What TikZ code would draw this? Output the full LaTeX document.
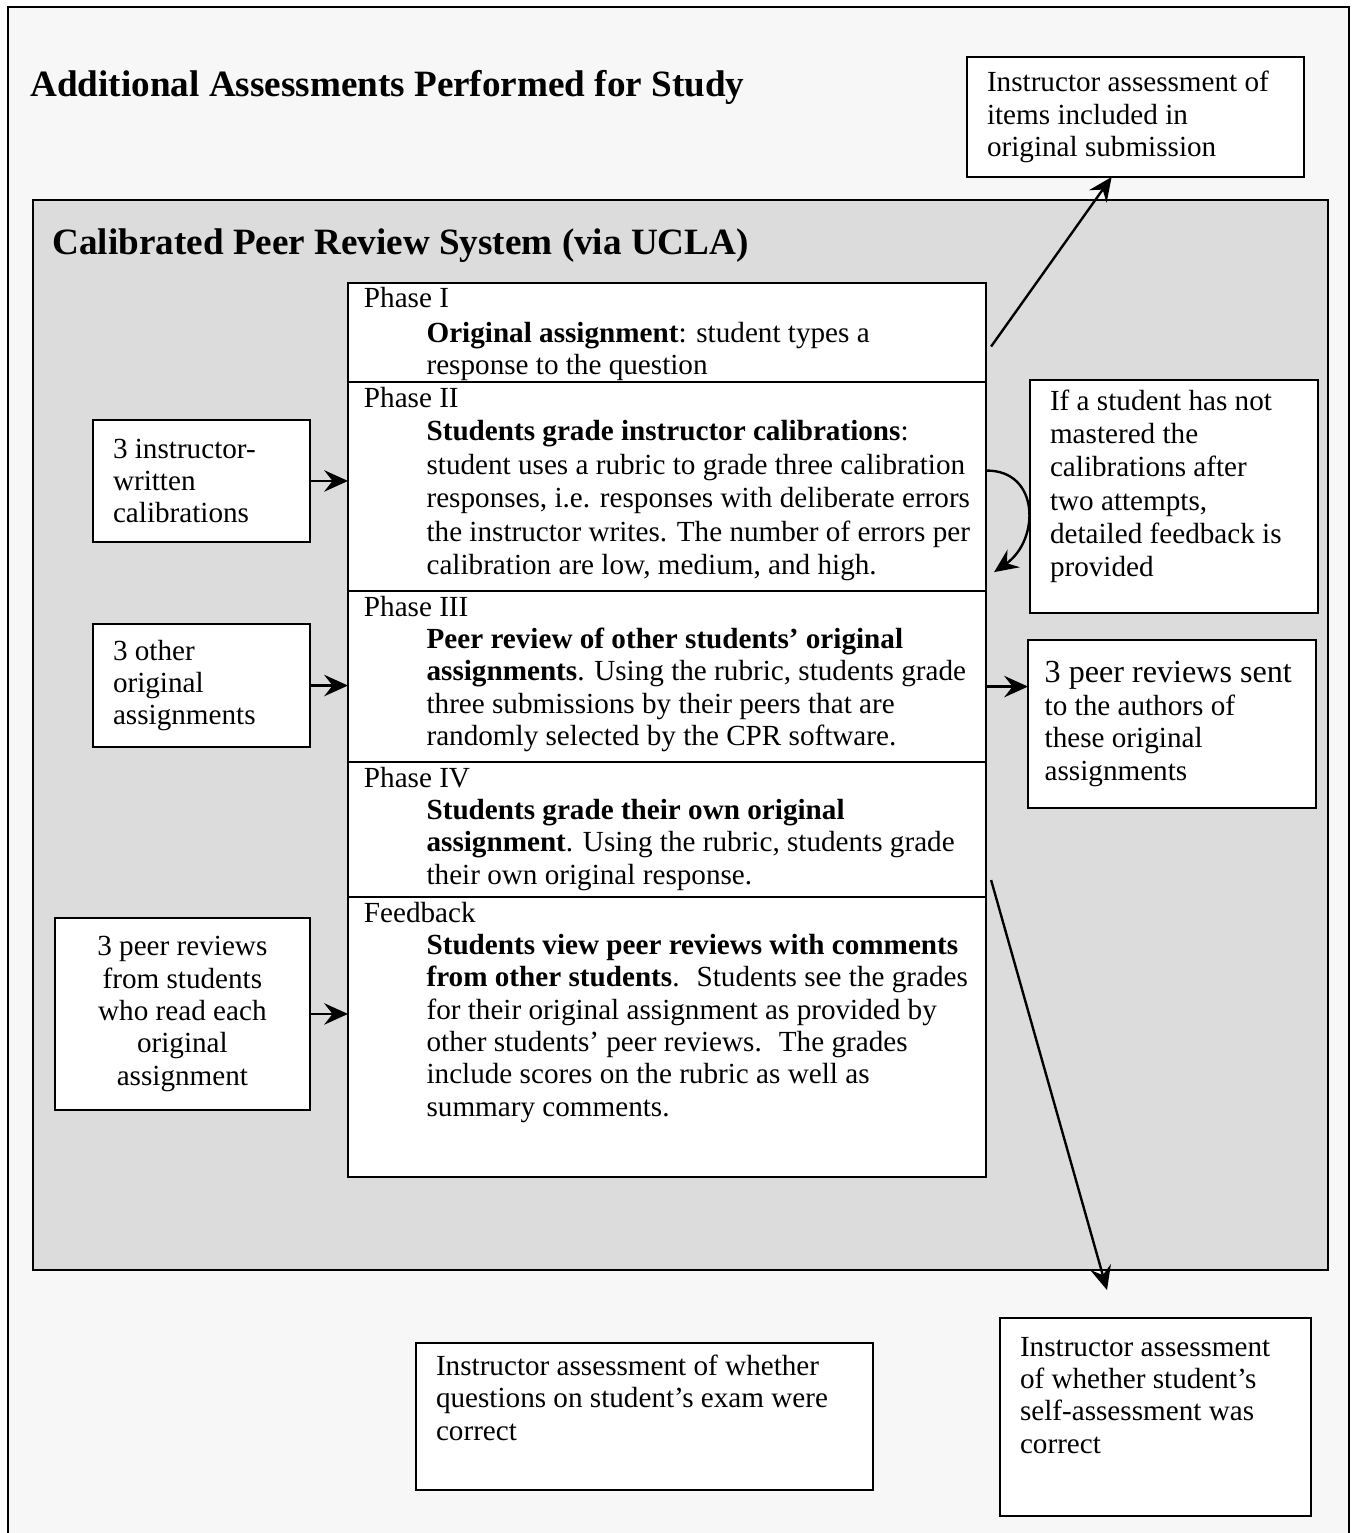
\documentclass[tikz,border=0pt]{standalone}
\usepackage{fontspec}
\setmainfont{Liberation Serif}
\usetikzlibrary{positioning,arrows.meta}
\definecolor{pagegray}{HTML}{F7F7F7}
\definecolor{panelgray}{HTML}{DCDCDC}
\newcommand{\phasetext}[3]{\parbox[c][#1][t]{268pt}{\leftskip=6.7pt #2\par\leftskip=33pt #3\par}}
\newcommand{\boxtext}[4][t]{\parbox[c][#3][#1]{#2}{\raggedright #4}}

\begin{document}
\begin{tikzpicture}[x=0.42pt,y=-0.42pt,
	every node/.style={font=\fontsize{12.25}{13.6}\selectfont},
	phasebox/.style={draw,line width=1pt,fill=white,inner xsep=0pt,inner ysep=2pt,outer sep=0pt},
	infobox/.style={draw,line width=1pt,fill=white,anchor=north west,inner xsep=8.4pt,inner ysep=4pt,outer sep=0pt},
	heading/.style={anchor=base west,inner sep=0pt,font=\fontsize{15.6}{19}\selectfont\bfseries},
	arr/.style={-{Stealth[length=10pt,width=9pt,inset=3.5pt]},line width=1pt}]
		\useasboundingbox (0,0) rectangle (1356,1533);
		\clip (0,0) rectangle (1356,1533);
		
		% frames
		\draw[line width=1pt,fill=pagegray] (8,7) rectangle (1349,1545);
		\draw[line width=1.2pt,fill=panelgray] (33,200) rectangle (1328,1270);
		\node[heading] (title) at (30,97) {Additional Assessments Performed for Study};
		\node[heading] (cpr) at (52,255) {Calibrated Peer Review System (via UCLA)};
		
		% phases
		\node[phasebox,anchor=north west] (ph1) at (348,283) {\phasetext{37.6pt}{Phase I\vspace{0.8pt}}{\textbf{Original assignment}: student types a\\response to the question}};
		\node[phasebox,below=0pt of ph1,font=\fontsize{12.25}{14.1}\selectfont] (ph2) {\phasetext{83.8pt}{Phase II}{\textbf{Students grade instructor calibrations}:\\student uses a rubric to grade three calibration\\responses, i.e. responses with deliberate errors\\the instructor writes. The number of errors per\\calibration are low, medium, and high.}};
		\node[phasebox,below=0pt of ph2] (ph3) {\phasetext{67.8pt}{Phase III}{\textbf{Peer review of other students' original}\\\textbf{assignments}. Using the rubric, students grade\\three submissions by their peers that are\\randomly selected by the CPR software.}};
		\node[phasebox,below=0pt of ph3] (ph4) {\phasetext{52.7pt}{Phase IV}{\textbf{Students grade their own original}\\\textbf{assignment}. Using the rubric, students grade\\their own original response.}};
		\node[phasebox,below=0pt of ph4] (ph5) {\phasetext{113.6pt}{Feedback}{\textbf{Students view peer reviews with comments}\\\textbf{from other students}.~ Students see the grades\\for their original assignment as provided by\\other students' peer reviews.~ The grades\\include scores on the rubric as well as\\summary comments.}};
		
		% inputs
		\node[infobox] (in1) at (93,420) {\boxtext[c]{74.3pt}{43.2pt}{3 instructor-\\written\\calibrations}};
		\node[infobox] (in2) at (93,624) {\boxtext[c]{74.3pt}{43.7pt}{3 other\\original\\assignments}};
		\node[infobox] (in3) at (55,918) {\boxtext[c]{90.2pt}{72.6pt}{\centering 3 peer reviews\\from students\\who read each\\original\\assignment}};
		
		% outputs and notes
		\node[infobox] (topbox) at (967,57) {\boxtext[c]{124.7pt}{42.4pt}{Instructor assessment of\\items included in\\original submission}};
		\node[infobox,font=\fontsize{12.25}{14}\selectfont] (note) at (1030,380) {\boxtext{104.2pt}{89.9pt}{If a student has not\\mastered the\\calibrations after\\two attempts,\\detailed feedback is\\provided}};
		\node[infobox,inner xsep=7pt] (out) at (1028,640) {\boxtext[c]{107pt}{62.6pt}{\mbox{\fontsize{13.5}{15}\selectfont 3 peer reviews sent}\\to the authors of\\these original\\assignments}};
		\node[infobox] (exambox) at (416,1343) {\boxtext{175.2pt}{53.7pt}{\vspace*{1pt}Instructor assessment of whether\\questions on student's exam were\\correct}};
		\node[infobox] (selfbox) at (1000,1318) {\boxtext{113.8pt}{75.2pt}{\vspace*{4pt}Instructor assessment\\of whether student's\\self-assessment was\\correct}};
		\coordinate (selftip) at (1107,1290);
		
		% arrows
		\draw[arr] (in1.east) -- (in1.east -| ph2.west);
		\draw[arr] (in2.east) -- (in2.east -| ph3.west);
		\draw[arr] (in3.east) -- (in3.east -| ph5.west);
		\draw[arr] ([shift={(0,10)}]ph3.east) -- ([shift={(0,10)}]ph3.east -| out.west);
		\draw[arr] ([shift={(5,14)}]ph1.east) -- ([xshift=-10pt]topbox.south);
		\draw[arr] ([shift={(0,-16)}]ph2.east) .. controls (1040,470) and (1040,540) .. ([shift={(8,-19)}]ph2.south east);
		\draw[arr] ([shift={(5,-17)}]ph4.south east) -- (selftip);
\end{tikzpicture}
\end{document}
